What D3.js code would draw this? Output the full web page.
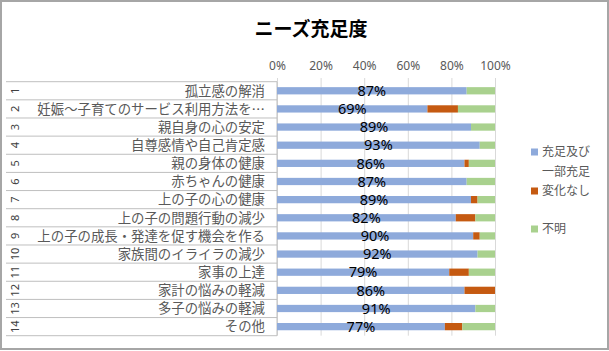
<!DOCTYPE html>
<html>
<head>
<meta charset="utf-8">
<script src="https://cdn.jsdelivr.net/npm/d3@7"></script>
<style>
  body { margin: 0; background: #fff; }
  svg { display: block; font-family: "Noto Sans CJK JP", "Noto Sans", sans-serif; }
</style>
</head>
<body>
<div id="chart"></div>
<script>
// ニーズ充足度 - stacked 100% bars
const width = 609;
const height = 351;

const numbers = ["1", "2", "3", "4", "5", "6", "7", "8", "9", "10", "11", "12", "13", "14"];
const categories = [
    "孤立感の解消",
    "妊娠～子育てのサービス利用方法を…",
    "親自身の心の安定",
    "自尊感情や自己肯定感",
    "親の身体の健康",
    "赤ちゃんの健康",
    "上の子の心の健康",
    "上の子の問題行動の減少",
    "上の子の成長・発達を促す機会を作る",
    "家族間のイライラの減少",
    "家事の上達",
    "家計の悩みの軽減",
    "多子の悩みの軽減",
    "その他"
];
const fulfilled = [87, 69, 89, 93, 86, 87, 89, 82, 90, 92, 79, 86, 91, 77];
const unchanged = [0, 14, 0, 0, 2, 0, 3, 9, 3, 0, 9, 14, 0, 8];
const unknown = [13, 17, 11, 7, 12, 13, 8, 9, 7, 8, 12, 0, 9, 15];
const seriesNames = ["充足及び\n一部充足", "変化なし", "不明"];
const tickValues = [0, 0.2, 0.4, 0.6, 0.8, 1];

const colors = ["#8eaadb", "#c55a11", "#a9d18e"];

const svg = d3.select("#chart")
    .append("svg")
    .attr("width", width)
    .attr("height", height);

// outer frame
svg.append("rect")
    .attr("x", 1).attr("y", 1)
    .attr("width", width - 2).attr("height", height - 3)
    .attr("fill", "#fff")
    .attr("stroke", "#a6a6a6")
    .attr("stroke-width", 2);

svg.append("text")
    .attr("x", 311)
    .attr("y", 36)
    .attr("text-anchor", "middle")
    .style("font-size", "19px")
    .style("font-weight", "bold")
    .style("fill", "#000")
    .text("ニーズ充足度");

const plotTop = 81.7, plotBottom = 335.7;
const x = d3.scaleLinear().domain([0, 1]).range([277, 495]);
const y = d3.scaleBand()
    .domain(d3.range(categories.length))
    .range([plotTop, plotBottom])
    .paddingInner(0.6)
    .paddingOuter(0.3);

// gridlines + top tick labels
const axis = svg.append("g")
    .attr("transform", "translate(0,78)")
    .call(d3.axisTop(x)
        .tickValues(tickValues)
        .tickFormat(d3.format(".0%"))
        .tickSize(-(plotBottom - 78))
        .tickPadding(8));
axis.select(".domain").remove();
axis.selectAll(".tick line").attr("stroke", "#d9d9d9");
axis.selectAll(".tick text")
    .style("font-size", "12px")
    .style("font-family", "'Noto Sans', sans-serif")
    .style("fill", "#595959");

// category table rows
const rowG = svg.append("g");
const boundaries = d3.range(categories.length + 1).map(i => plotTop + i * y.step());
rowG.selectAll("line")
    .data(boundaries)
    .join("line")
    .attr("x1", 6).attr("x2", x(0))
    .attr("y1", d => d).attr("y2", d => d)
    .attr("stroke", "#bfbfbf")
    .attr("stroke-width", 1);

rowG.append("line")
    .attr("x1", x(0)).attr("x2", x(0))
    .attr("y1", plotTop).attr("y2", plotBottom)
    .attr("stroke", "#bfbfbf");

rowG.selectAll(".cat")
    .data(categories)
    .join("text")
    .attr("class", "cat")
    .attr("x", 265)
    .attr("y", (d, i) => y(i) + y.bandwidth() / 2)
    .attr("dy", "0.36em")
    .attr("text-anchor", "end")
    .style("font-size", "13.4px")
    .style("fill", "#595959")
    .text(d => d);

rowG.selectAll(".num")
    .data(numbers)
    .join("text")
    .attr("class", "num")
    .attr("transform", (d, i) => `translate(15,${y(i) + y.bandwidth() / 2}) rotate(-90)`)
    .attr("dy", "0.36em")
    .attr("text-anchor", "middle")
    .style("font-size", "11px")
    .style("font-family", "'Noto Sans', sans-serif")
    .style("fill", "#404040")
    .text(d => d);

// stacked bars
const rows = categories.map((c, i) => ({ i, a: fulfilled[i], b: unchanged[i], c: unknown[i] }));
const stack = d3.stack().keys(["a", "b", "c"]).value((d, k) => d[k] / 100);
const layers = stack(rows);

svg.append("g")
    .selectAll("g")
    .data(layers)
    .join("g")
    .attr("fill", (d, i) => colors[i])
    .selectAll("rect")
    .data(d => d)
    .join("rect")
    .attr("x", d => x(d[0]))
    .attr("y", d => y(d.data.i))
    .attr("width", d => x(d[1]) - x(d[0]))
    .attr("height", y.bandwidth());

// value labels centred on the first segment
svg.append("g")
    .selectAll("text")
    .data(rows)
    .join("text")
    .attr("x", d => x(d.a / 200))
    .attr("y", d => y(d.i) + y.bandwidth() / 2)
    .attr("dy", "0.36em")
    .attr("text-anchor", "middle")
    .style("font-size", "14.5px")
    .style("font-family", "'Noto Sans', sans-serif")
    .style("fill", "#000")
    .text(d => d.a + "%");

// legend
const legendY = [152, 191, 229];
const legend = svg.append("g")
    .selectAll("g")
    .data(seriesNames)
    .join("g")
    .attr("transform", (d, i) => `translate(531,${legendY[i]})`);

legend.append("rect")
    .attr("x", 0).attr("y", -3.5)
    .attr("width", 7).attr("height", 7)
    .attr("fill", (d, i) => colors[i]);

legend.append("text")
    .style("font-size", "12px")
    .style("fill", "#595959")
    .selectAll("tspan")
    .data(d => d.split("\n"))
    .join("tspan")
    .attr("x", 11)
    .attr("y", (d, i) => i * 19.5)
    .attr("dy", "0.36em")
    .text(d => d);
</script>
</body>
</html>
